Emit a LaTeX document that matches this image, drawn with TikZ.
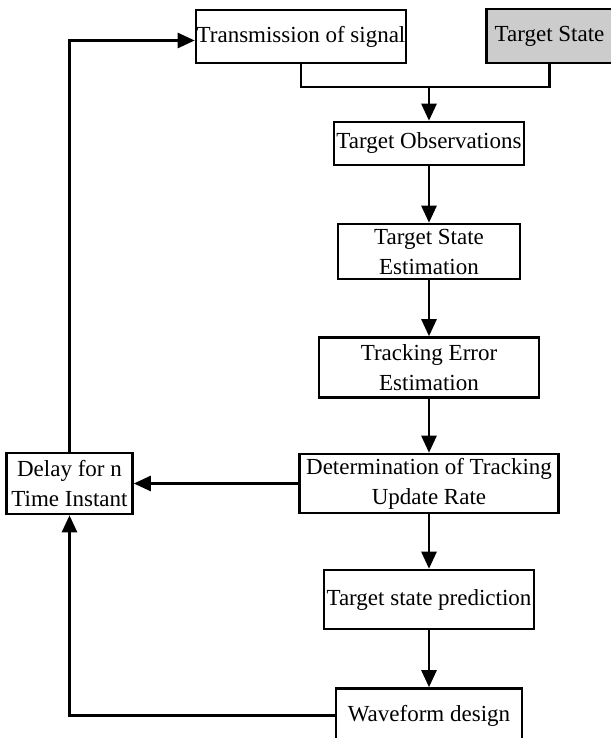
\documentclass[tikz,border=0pt]{standalone}
\usepackage{fontspec}
\setmainfont{Liberation Serif}
\usetikzlibrary{arrows.meta, positioning}

\begin{document}
\begin{tikzpicture}[x=1pt,y=1pt,node distance=116pt,on grid,line width=2.6pt,
    >={Triangle[length=17pt,width=15pt]}]
    \tikzstyle{block}=[shape=rectangle,draw,line width=2.6pt,align=center,inner sep=0pt,
        font=\fontsize{23}{30}\selectfont]
    \useasboundingbox (0,0) rectangle (610,-738);

    % signal source and target on the top row
    \node[block, minimum width=210pt, minimum height=53pt] (TX) at (301,-36.5) {Transmission of signal};
    \node[block, fill=black!20, minimum width=126pt, minimum height=54pt] (TS) at (549.5,-36) {Target State};

    % main processing chain
    \node[block, minimum width=190pt, minimum height=43pt] (OBS) at (429,-143.5) {Target Observations};
    \node[block, below=108pt of OBS, minimum width=182pt, minimum height=55pt] (EST) {Target State\\Estimation};
    \node[block, below=of EST, minimum width=220pt, minimum height=60pt] (ERR) {Tracking Error\\Estimation};
    \node[block, below=of ERR, minimum width=259pt, minimum height=59pt] (DET) {Determination of Tracking\\Update Rate};
    \node[block, below=of DET, minimum width=210pt, minimum height=59pt] (PRED) {Target state prediction};
    \node[block, below=of PRED, minimum width=186pt, minimum height=54pt] (WAVE) {Waveform design};

    \node[block, left=359.5pt of DET, minimum width=126pt, minimum height=61pt] (DELAY) {Delay for n\\Time Instant};

    % both top boxes merge into one line
    \coordinate (join) at (429,-87);
    \draw (TX.south) |- (join) -| (TS.south);
    \draw[->] (join) -- (OBS.north);

    \path[->,draw]
    (OBS) edge (EST)
    (EST) edge (ERR)
    (ERR) edge (DET)
    (DET) edge (PRED)
    (PRED) edge (WAVE)
    (DET) edge (DELAY)
    ;

    % feedback loop
    \draw[->] (WAVE.west) -| (DELAY.south);
    \draw[->] (DELAY.north) |- ([yshift=-4pt]TX.west);

\end{tikzpicture}
\end{document}
